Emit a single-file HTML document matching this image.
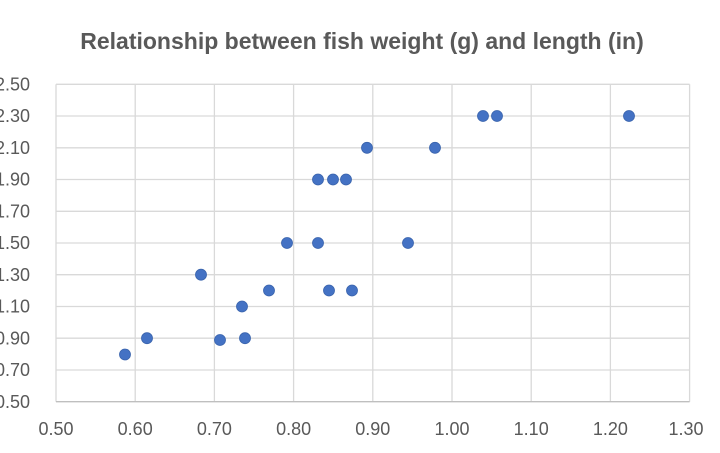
<!DOCTYPE html>
<html><head><style>body{margin:0;background:#fff}</style></head><body>
<svg width="720" height="448" xmlns="http://www.w3.org/2000/svg" font-family="Liberation Sans, sans-serif">
<rect width="720" height="448" fill="#fff"/>
<text x="362" y="49" text-anchor="middle" font-size="23" font-weight="bold" fill="#595959">Relationship between fish weight (g) and length (in)</text>
<g stroke="#d9d9d9" stroke-width="1.3">
<line x1="56" y1="84.3" x2="689.6" y2="84.3"/><line x1="56" y1="116" x2="689.6" y2="116"/><line x1="56" y1="147.8" x2="689.6" y2="147.8"/><line x1="56" y1="179.5" x2="689.6" y2="179.5"/><line x1="56" y1="211.3" x2="689.6" y2="211.3"/><line x1="56" y1="243" x2="689.6" y2="243"/><line x1="56" y1="274.7" x2="689.6" y2="274.7"/><line x1="56" y1="306.5" x2="689.6" y2="306.5"/><line x1="56" y1="338.2" x2="689.6" y2="338.2"/><line x1="56" y1="370" x2="689.6" y2="370"/>
<line x1="135.2" y1="84.3" x2="135.2" y2="401.7"/><line x1="214.4" y1="84.3" x2="214.4" y2="401.7"/><line x1="293.6" y1="84.3" x2="293.6" y2="401.7"/><line x1="372.8" y1="84.3" x2="372.8" y2="401.7"/><line x1="452" y1="84.3" x2="452" y2="401.7"/><line x1="531.2" y1="84.3" x2="531.2" y2="401.7"/><line x1="610.4" y1="84.3" x2="610.4" y2="401.7"/><line x1="689.6" y1="84.3" x2="689.6" y2="401.7"/>
<line x1="56" y1="84.3" x2="56" y2="401.7"/>
</g>
<line x1="56" y1="401.7" x2="689.6" y2="401.7" stroke="#bfbfbf" stroke-width="1.3"/>
<g font-size="18" fill="#595959" text-anchor="end">
<text x="30" y="90.5">2.50</text><text x="30" y="122">2.30</text><text x="30" y="154">2.10</text><text x="30" y="185.5">1.90</text><text x="30" y="217.5">1.70</text><text x="30" y="249">1.50</text><text x="30" y="281">1.30</text><text x="30" y="312.5">1.10</text><text x="30" y="344.5">0.90</text><text x="30" y="376">0.70</text><text x="30" y="408">0.50</text>
</g>
<g font-size="18" fill="#595959" text-anchor="middle">
<text x="56" y="435">0.50</text><text x="135.2" y="435">0.60</text><text x="214.4" y="435">0.70</text><text x="293.6" y="435">0.80</text><text x="372.8" y="435">0.90</text><text x="452" y="435">1.00</text><text x="531.2" y="435">1.10</text><text x="610.4" y="435">1.20</text><text x="686" y="435">1.30</text>
</g>
<g fill="#4472c4" stroke="#3a64ad" stroke-width="0.8">
<circle cx="125" cy="354.5" r="5.5"/><circle cx="147" cy="338.2" r="5.5"/><circle cx="201" cy="274.7" r="5.5"/><circle cx="220" cy="340" r="5.5"/><circle cx="242" cy="306.5" r="5.5"/><circle cx="245" cy="338.2" r="5.5"/><circle cx="269" cy="290.5" r="5.5"/><circle cx="287" cy="243" r="5.5"/><circle cx="318" cy="179.5" r="5.5"/><circle cx="318" cy="243" r="5.5"/><circle cx="329" cy="290.5" r="5.5"/><circle cx="333" cy="179.5" r="5.5"/><circle cx="346" cy="179.5" r="5.5"/><circle cx="352" cy="290.5" r="5.5"/><circle cx="367" cy="147.8" r="5.5"/><circle cx="408" cy="243" r="5.5"/><circle cx="435" cy="147.8" r="5.5"/><circle cx="483" cy="116" r="5.5"/><circle cx="497" cy="116" r="5.5"/><circle cx="629" cy="116" r="5.5"/>
</g>
</svg>
</body></html>
